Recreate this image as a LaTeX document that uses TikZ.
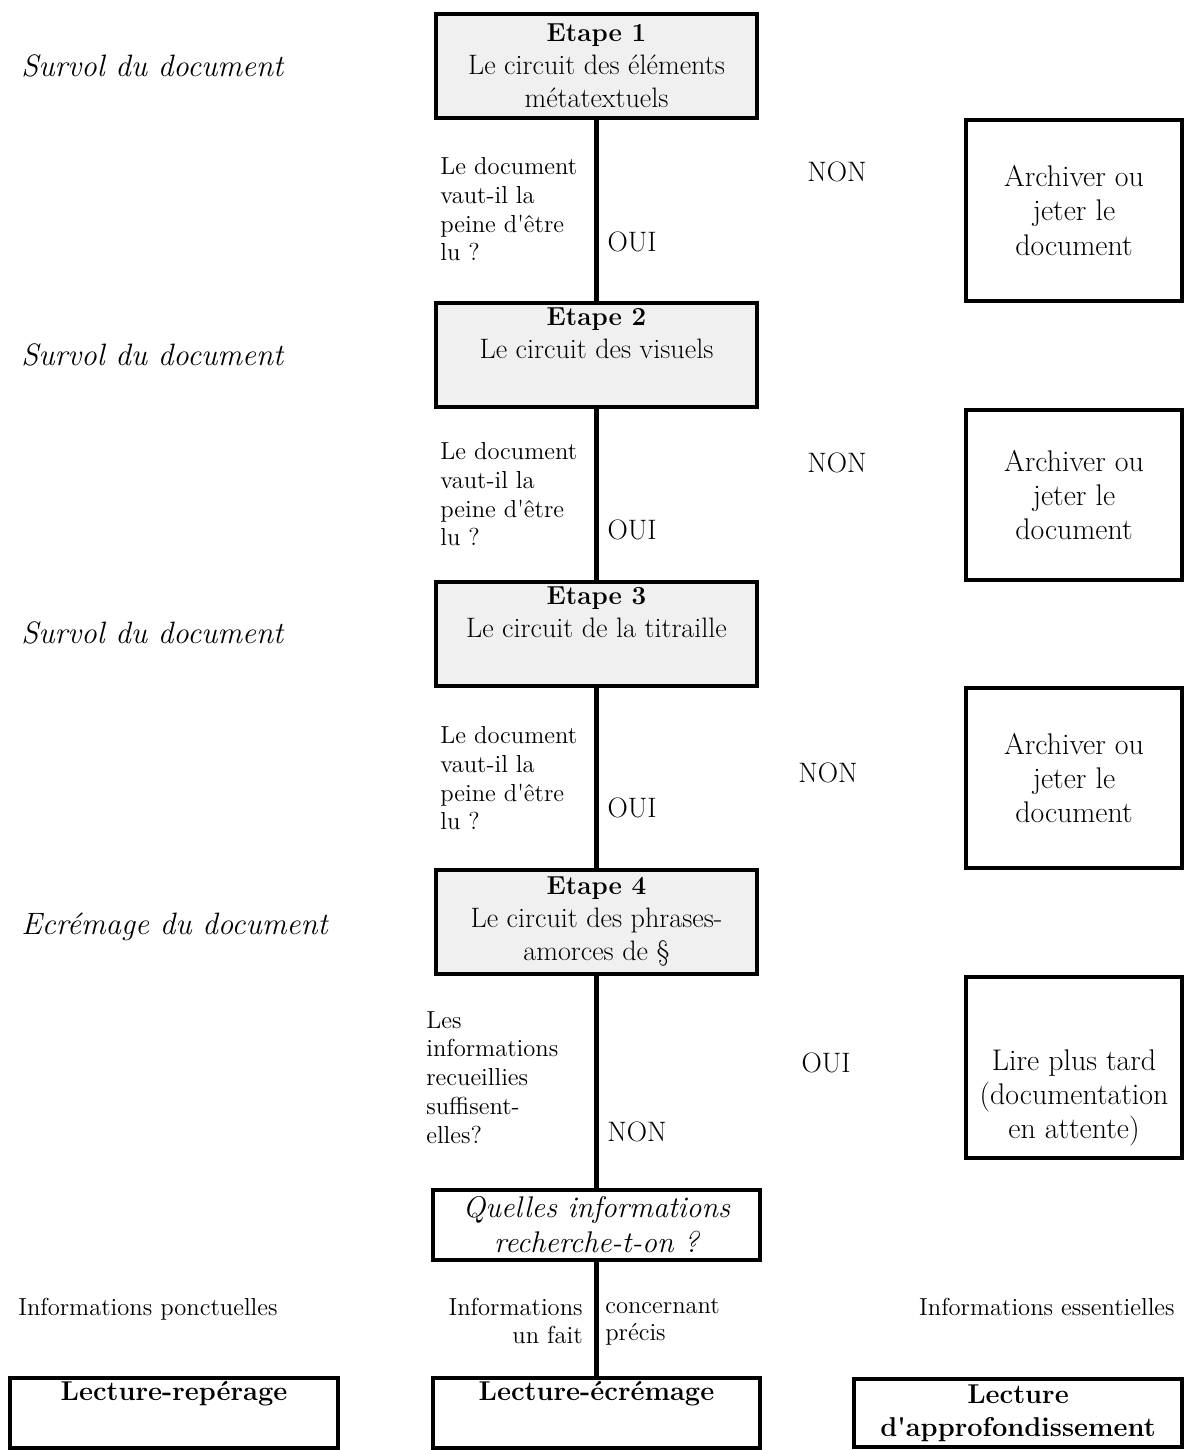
\documentclass[tikz,border=0pt]{standalone}
\usepackage{amsmath}
\usepackage{tikz}
\usetikzlibrary{arrows,arrows.meta}
\tikzset{>=latex}
\usepackage{xcolor}

\tikzset{
    etapebox/.style = {draw = black, line width = 2.4pt, fill = black!6, minimum width = 6.42cm, minimum height = 2.08cm, align = center, inner sep = 2pt, font = \fontsize{16}{18.8}\selectfont},
    sidebox/.style = {draw = black, line width = 2.4pt, minimum width = 4.32cm, align = center, font = \fontsize{17}{19.5}\selectfont},
    endbox/.style = {draw = black, line width = 2.4pt, minimum width = 6.55cm, minimum height = 1.36cm, align = center, inner sep = 2pt, font = \fontsize{15.5}{19}\selectfont\bfseries},
    question/.style = {anchor = north west, align = left, inner sep = 0pt, font = \fontsize{14}{16.4}\selectfont},
    answer/.style = {inner sep = 0pt, font = \fontsize{16}{18}\selectfont},
    phase/.style = {anchor = base west, inner sep = 0pt, font = \fontsize{17.6}{20}\selectfont\itshape},
    infotext/.style = {inner sep = 0pt, font = \fontsize{14}{15.6}\selectfont},
    link/.style = {line width = 2.4pt}
}
\newcommand{\etapetitle}[1]{{\fontsize{14.8}{18.8}\selectfont\bfseries Etape #1}}

\begin{document}
\begin{tikzpicture}
    \useasboundingbox (0, 0) rectangle (23.72, -29);

    % etapes
    \node[etapebox] (e1) at (11.93, -1.32) {\etapetitle{1}\\Le circuit des \'el\'ements\\m\'etatextuels};
    \node[etapebox] (e2) at (11.93, -7.1) {\etapetitle{2}\\Le circuit des visuels\\ \strut};
    \node[etapebox] (e3) at (11.93, -12.68) {\etapetitle{3}\\Le circuit de la titraille\\ \strut};
    \node[etapebox] (e4) at (11.93, -18.44) {\etapetitle{4}\\Le circuit des phrases-\\amorces de \S};
    \node[draw = black, line width = 2.4pt, minimum width = 6.54cm, minimum height = 1.4cm, align = center, font = \fontsize{17}{19.8}\selectfont\itshape] (quest) at (11.93, -24.5) {Quelles informations\\recherche-t-on ?};

    \node[phase] (p1) at (0.42, -1.52) {Survol du document};
    \node[phase] (p2) at (0.42, -7.3) {Survol du document};
    \node[phase] (p3) at (0.42, -12.86) {Survol du document};
    \node[phase] (p4) at (0.42, -18.68) {Ecr\'emage du document};

    % questions and answers
    \node[question] (q1) at (8.8, -3.14) {Le document\\vaut-il la\\peine d\textquotesingle\^etre\\lu ?};
    \node[question] (q2) at (8.8, -8.84) {Le document\\vaut-il la\\peine d\textquotesingle\^etre\\lu ?};
    \node[question] (q3) at (8.8, -14.52) {Le document\\vaut-il la\\peine d\textquotesingle\^etre\\lu ?};
    \node[question] (q4) at (8.52, -20.22) {Les\\informations\\recueillies\\suffisent-\\elles?};

    \node[answer] (oui1) at (12.64, -4.84) {OUI};
    \node[answer] (non1) at (16.74, -3.44) {NON};
    \node[answer] (oui2) at (12.64, -10.6) {OUI};
    \node[answer] (non2) at (16.74, -9.26) {NON};
    \node[answer] (oui3) at (12.64, -16.16) {OUI};
    \node[answer] (non3) at (16.56, -15.46) {NON};
    \node[answer] (non4) at (12.74, -22.64) {NON};
    \node[answer] (oui4) at (16.52, -21.26) {OUI};

    % side boxes
    \node[sidebox, minimum height = 3.62cm] (r1) at (21.48, -4.21) {Archiver ou\\jeter le\\document};
    \node[sidebox, minimum height = 3.4cm] (r2) at (21.48, -9.9) {Archiver ou\\jeter le\\document};
    \node[sidebox, minimum height = 3.6cm] (r3) at (21.48, -15.56) {Archiver ou\\jeter le\\document};
    \node[sidebox, minimum height = 3.62cm] (r4) at (21.48, -21.35) {};
    \node[sidebox, draw = none] (r4txt) at (21.48, -21.96) {Lire plus tard\\(documentation\\en attente)};

    % lectures
    \node[infotext, anchor = base west] (i1) at (0.36, -26.3) {Informations ponctuelles};
    \node[infotext, anchor = north east, align = right] (i2) at (11.66, -25.96) {Informations\\un fait};
    \node[infotext, anchor = north west, align = left] (i3) at (12.1, -25.96) {concernant\\pr\'ecis};
    \node[infotext, anchor = base east] (i4) at (23.5, -26.3) {Informations essentielles};

    \node[endbox] (l1) at (3.48, -28.26) {Lecture-rep\'erage\\ \strut};
    \node[endbox] (l2) at (11.93, -28.26) {Lecture-\'ecr\'emage\\ \strut};
    \node[endbox] (l3) at (20.36, -28.26) {Lecture\\d\textquotesingle approfondissement};

    \draw[link] (e1) -- (e2);
    \draw[link] (e2) -- (e3);
    \draw[link] (e3) -- (e4);
    \draw[link] (e4) -- (quest);
    \draw[link] (quest) -- (l2);
\end{tikzpicture}
\end{document}
